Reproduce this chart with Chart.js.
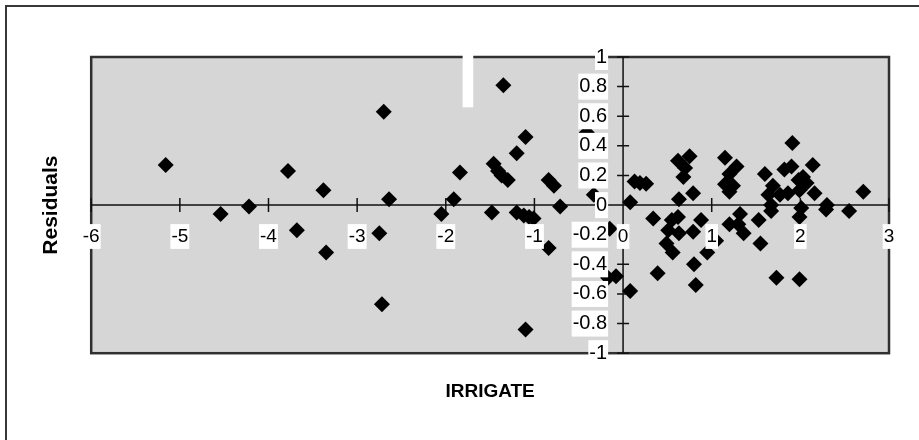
<!DOCTYPE html>
<html>
<head>
<meta charset="utf-8">
<script src="https://cdn.jsdelivr.net/npm/chart.js@4.4.1/dist/chart.umd.min.js"></script>
<style>
html,body{margin:0;padding:0;background:#fff;}
canvas{display:block;}
</style>
</head>
<body>
<canvas id="c" width="919" height="440"></canvas>
<script>
// ---- data ----
const irrigate = [
  -5.16, -4.54, -4.22, -3.78, -3.68, -3.38, -3.35,
  -2.70, -2.64, -2.75, -2.72,
  -2.05, -1.91, -1.84, -1.48, -1.46, -1.41, -1.37, -1.30, -1.35,
  -1.20, -1.10, -1.20, -1.12, -1.06, -1.01, -1.10,
  -0.84, -0.78, -0.84, -0.71, -0.33, -0.41, -0.15, -0.17, -0.08,
  0.08, 0.08, 0.13, 0.19, 0.26, 0.34, 0.39, 0.55, 0.51,
  0.62, 0.75, 0.70, 0.68, 0.63, 0.79, 0.62, 0.63, 0.79, 0.49, 0.56,
  0.88, 0.80, 0.82, 0.95, 1.05,
  1.15, 1.28, 1.20, 1.15, 1.24, 1.20, 1.32, 1.20, 1.30, 1.36,
  1.53, 1.55, 1.60, 1.64, 1.69, 1.67, 1.67, 1.73, 1.77, 1.86, 1.82, 1.90, 1.91,
  1.99, 1.99, 2.01, 1.98, 2.03, 2.07, 1.99, 2.14, 2.16,
  2.30, 2.29, 2.55, 2.71
];
const residuals = [
  0.27, -0.06, -0.01, 0.23, -0.17, 0.10, -0.32,
  0.63, 0.04, -0.19, -0.67,
  -0.06, 0.04, 0.22, -0.05, 0.28, 0.23, 0.20, 0.17, 0.81,
  0.35, 0.46, -0.05, -0.07, -0.08, -0.09, -0.84,
  0.17, 0.13, -0.29, -0.01, 0.07, 0.49, -0.16, -0.49, -0.48,
  -0.58, 0.02, 0.16, 0.15, 0.145, -0.09, -0.46, -0.10, -0.17,
  0.30, 0.33, 0.25, 0.19, 0.04, 0.08, -0.08, -0.19, -0.18, -0.26, -0.32,
  -0.10, -0.40, -0.54, -0.32, -0.24,
  0.32, 0.26, 0.21, 0.14, 0.13, 0.09, -0.06, -0.13, -0.13, -0.19,
  -0.10, -0.26, 0.21, 0.07, 0.13, 0.00, -0.04, -0.49, 0.07, 0.08, 0.24, 0.26, 0.42,
  -0.50, -0.08, -0.02, 0.17, 0.19, 0.15, 0.10, 0.27, 0.08,
  0.00, -0.03, -0.04, 0.09
];
const xTickValues = [-6, -5, -4, -3, -2, -1, 0, 1, 2, 3];
const xTickLabels = ['-6', '-5', '-4', '-3', '-2', '-1', '0', '1', '2', '3'];
const yTickValues = [-1, -0.8, -0.6, -0.4, -0.2, 0, 0.2, 0.4, 0.6, 0.8, 1];
const yTickLabels = ['-1', '-0.8', '-0.6', '-0.4', '-0.2', '0', '0.2', '0.4', '0.6', '0.8', '1'];
const xAxisTitle = 'IRRIGATE';
const yAxisTitle = 'Residuals';

// ---- drawing ----
Chart.defaults.font.family = "'Liberation Sans', Arial, Helvetica, sans-serif";
Chart.defaults.color = '#000';

const excelFrame = {
  id: 'excelFrame',
  beforeDraw(chart) {
    const {ctx, chartArea: a} = chart;
    ctx.save();
    ctx.fillStyle = '#ffffff';
    ctx.fillRect(0, 0, chart.width, chart.height);
    ctx.strokeStyle = '#383838';
    ctx.lineWidth = 2;
    ctx.beginPath();
    ctx.moveTo(6, chart.height);
    ctx.lineTo(6, 6);
    ctx.lineTo(chart.width, 6);
    ctx.stroke();
    ctx.fillStyle = '#d6d6d6';
    ctx.fillRect(a.left, a.top, a.right - a.left, a.bottom - a.top);
    ctx.strokeStyle = '#303030';
    ctx.lineWidth = 2.5;
    ctx.strokeRect(a.left, a.top, a.right - a.left, a.bottom - a.top);
    ctx.restore();
  },
  beforeDatasetsDraw(chart) {
    const {ctx, chartArea: a, scales} = chart;
    const xs = scales.x, ys = scales.y;
    const x0 = xs.getPixelForValue(0), y0 = ys.getPixelForValue(0);
    ctx.save();
    ctx.strokeStyle = '#111';
    ctx.lineWidth = 1.5;
    ctx.beginPath();
    ctx.moveTo(a.left, y0); ctx.lineTo(a.right, y0);
    ctx.moveTo(x0, a.top); ctx.lineTo(x0, a.bottom);
    xTickValues.forEach(v => {
      const px = xs.getPixelForValue(v);
      ctx.moveTo(px, y0 - 7); ctx.lineTo(px, y0 + 7);
    });
    yTickValues.forEach(v => {
      const py = ys.getPixelForValue(v);
      ctx.moveTo(x0 - 6, py); ctx.lineTo(x0 + 6, py);
    });
    ctx.stroke();
    ctx.restore();
  },
  afterDraw(chart) {
    // white scan artefact near the top edge of the plot
    const {ctx, chartArea: a, scales} = chart;
    const l = scales.x.getPixelForValue(-1.81);
    const r = scales.x.getPixelForValue(-1.69);
    const b = scales.y.getPixelForValue(0.66);
    ctx.save();
    ctx.fillStyle = '#ffffff';
    ctx.fillRect(l, a.top - 5, r - l, b - a.top + 5);
    ctx.restore();
  }
};

new Chart(document.getElementById('c'), {
  type: 'scatter',
  data: {
    datasets: [{
      label: yAxisTitle,
      data: irrigate.map((v, i) => ({x: v, y: residuals[i]})),
      pointStyle: 'rectRot',
      pointRadius: 8,
      pointHoverRadius: 8,
      backgroundColor: '#000',
      borderColor: '#000',
      borderWidth: 0
    }]
  },
  options: {
    responsive: false,
    animation: false,
    events: [],
    layout: {padding: {left: 0, top: 57, right: 30, bottom: 0}},
    plugins: {
      legend: {display: false},
      tooltip: {enabled: false},
      title: {
        display: true, text: xAxisTitle, position: 'bottom', fullSize: false,
        color: '#000', font: {size: 19, weight: 'bold'},
        padding: {top: 27, bottom: 37}
      },
      subtitle: {
        display: true, text: yAxisTitle, position: 'left', fullSize: false,
        color: '#000', font: {size: 21, weight: 'bold'},
        padding: {top: 39, bottom: 27}
      }
    },
    scales: {
      x: {
        type: 'linear', min: -6, max: 3,
        position: {y: 0},
        grid: {display: false, drawTicks: false},
        border: {display: false},
        afterBuildTicks: s => { s.ticks = xTickValues.map(v => ({value: v})); },
        ticks: {
          z: 1, autoSkip: false, maxRotation: 0, padding: 20,
          font: {size: 19}, color: '#000',
          showLabelBackdrop: true, backdropColor: '#ffffff', backdropPadding: 1,
          callback: (v, i) => xTickLabels[i]
        }
      },
      y: {
        type: 'linear', min: -1, max: 1,
        position: {x: -0.18},
        grid: {display: false, drawTicks: false},
        border: {display: false},
        afterBuildTicks: s => { s.ticks = yTickValues.map(v => ({value: v})); },
        ticks: {
          z: 1, autoSkip: false, padding: 0,
          font: {size: 20}, color: '#000',
          showLabelBackdrop: true, backdropColor: '#ffffff', backdropPadding: 1,
          callback: (v, i) => yTickLabels[i]
        }
      }
    }
  },
  plugins: [excelFrame]
});
</script>
</body>
</html>
